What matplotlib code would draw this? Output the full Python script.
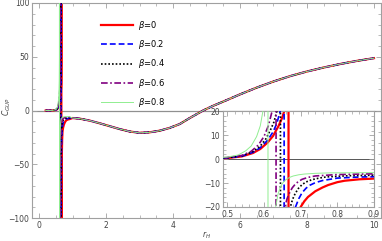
import matplotlib.pyplot as plt
from matplotlib.ticker import MultipleLocator

betas = [0, 0.2, 0.4, 0.6, 0.8]
colors = ['#ff0000', '#0000ff', '#000000', '#800080', '#90ee90']
styles = ['-', (0, (3.5, 1.8)), (0, (1.0, 1.2)), (0, (4, 1.5, 1, 1.5)), '-']
widths = [1.6, 1.2, 1.2, 1.2, 0.7]

# branch left of the pole (C -> +inf)
r_left_0 = [0.2, 0.3, 0.4, 0.45, 0.5, 0.54, 0.57, 0.59, 0.61, 0.625, 0.64, 0.65, 0.655, 0.66, 0.664, 0.6668]
c_left_0 = [0.0, 0.0, 0.1, 0.2, 0.5, 1.2, 2.6, 4.3, 7.0, 9.8, 14.0, 17.5, 20.0, 26.0, 45.0, 600.0]
r_left_2 = [0.2, 0.3, 0.4, 0.45, 0.5, 0.54, 0.57, 0.59, 0.61, 0.625, 0.635, 0.644, 0.649, 0.653, 0.6548]
c_left_2 = [0.0, 0.0, 0.1, 0.25, 0.55, 1.3, 2.9, 4.8, 8.0, 11.5, 15.0, 20.0, 27.0, 45.0, 600.0]
r_left_4 = [0.2, 0.3, 0.4, 0.45, 0.5, 0.54, 0.57, 0.59, 0.605, 0.617, 0.627, 0.635, 0.64, 0.643, 0.6448]
c_left_4 = [0.0, 0.0, 0.1, 0.3, 0.6, 1.4, 3.2, 5.5, 8.5, 12.0, 15.5, 20.0, 28.0, 45.0, 600.0]
r_left_6 = [0.2, 0.3, 0.4, 0.45, 0.5, 0.54, 0.565, 0.585, 0.6, 0.612, 0.622, 0.627, 0.631, 0.6328]
c_left_6 = [0.0, 0.0, 0.1, 0.3, 0.7, 1.6, 3.3, 6.0, 9.5, 14.0, 20.0, 27.0, 45.0, 600.0]
r_left_8 = [0.2, 0.3, 0.4, 0.45, 0.5, 0.53, 0.55, 0.565, 0.58, 0.59, 0.597, 0.603, 0.608, 0.6108]
c_left_8 = [0.0, 0.0, 0.15, 0.4, 0.9, 1.8, 3.5, 5.5, 9.5, 14.0, 20.0, 28.0, 50.0, 600.0]

# branch right of the pole (C -> -inf)
r_right_0 = [0.6672, 0.672, 0.68, 0.69, 0.70, 0.71, 0.72, 0.74, 0.76, 0.775, 0.80, 0.82, 0.86, 0.9]
c_right_0 = [-600.0, -100.0, -42.0, -27.0, -20.0, -17.6, -15.8, -13.4, -11.8, -10.8, -9.6, -9.0, -8.4, -8.1]
r_right_2 = [0.6552, 0.66, 0.668, 0.676, 0.686, 0.695, 0.704, 0.715, 0.725, 0.74, 0.76, 0.80, 0.85, 0.9]
c_right_2 = [-600.0, -100.0, -40.0, -27.0, -20.0, -16.5, -14.0, -12.1, -10.9, -9.8, -8.9, -7.9, -7.5, -7.3]
r_right_4 = [0.6452, 0.65, 0.657, 0.664, 0.672, 0.678, 0.685, 0.694, 0.704, 0.715, 0.73, 0.75, 0.77, 0.83, 0.9]
c_right_4 = [-600.0, -100.0, -40.0, -27.0, -20.0, -16.8, -14.4, -12.2, -10.6, -9.5, -8.6, -7.9, -7.4, -6.9, -6.7]
r_right_6 = [0.6332, 0.638, 0.645, 0.65, 0.657, 0.663, 0.67, 0.677, 0.685, 0.694, 0.704, 0.72, 0.74, 0.80, 0.9]
c_right_6 = [-600.0, -100.0, -40.0, -28.0, -20.0, -16.5, -14.0, -12.0, -10.5, -9.3, -8.4, -7.6, -7.0, -6.4, -6.1]
r_right_8 = [0.6112, 0.616, 0.622, 0.627, 0.632, 0.638, 0.645, 0.652, 0.66, 0.67, 0.68, 0.695, 0.71, 0.74, 0.78, 0.9]
c_right_8 = [-600.0, -100.0, -40.0, -27.0, -20.0, -14.8, -11.5, -9.8, -8.5, -7.6, -7.0, -6.5, -6.2, -5.9, -5.7, -5.6]

# large r_H part, the five curves coincide there
r_far = [1.0, 1.2, 1.5, 1.8, 2.1, 2.4, 2.7, 3.0, 3.3, 3.6, 3.9, 4.2, 4.5, 4.9,
         5.2, 5.5, 6.0, 6.5, 7.0, 7.5, 8.0, 8.5, 9.0, 9.5, 10.0]
c_far = [-7.0, -7.5, -9.3, -11.8, -14.5, -17.2, -19.5, -20.8, -20.3, -18.8, -16.2, -12.6, -7.0, 0.0,
         4.4, 8.3, 15.0, 21.3, 27.0, 32.0, 36.3, 40.0, 43.3, 46.2, 48.7]

r_left = [r_left_0, r_left_2, r_left_4, r_left_6, r_left_8]
c_left = [c_left_0, c_left_2, c_left_4, c_left_6, c_left_8]
r_right = [r_right_0, r_right_2, r_right_4, r_right_6, r_right_8]
c_right = [c_right_0, c_right_2, c_right_4, c_right_6, c_right_8]

frame = '#a0a0a0'
tick_col = '#444444'


def style_axes(ax, fs):
    for s in ax.spines.values():
        s.set_color(frame)
        s.set_linewidth(0.8)
    ax.tick_params(which='both', direction='in', top=True, right=True,
                   color=frame, labelcolor=tick_col, labelsize=fs, pad=2)
    ax.tick_params(which='major', length=3.5, width=0.6)
    ax.tick_params(which='minor', length=2, width=0.5)


fig = plt.figure(figsize=(3.82, 2.41), dpi=100)
ax = fig.add_axes([32 / 382, 1 - 218 / 241, 349 / 382, 215 / 241])

ax.axhline(0, color='#909090', lw=0.9, zorder=1)
lines = []
for i, b in enumerate(betas):
    r = r_left[i] + r_right[i] + r_far
    c = c_left[i] + c_right[i] + c_far
    ln, = ax.plot(r, c, color=colors[i], ls=styles[i], lw=widths[i], zorder=2 + i,
                  label=r'$\beta$=' + str(b))
    lines.append(ln)

ax.set_xlim(-0.21, 10.21)
ax.set_ylim(-100, 100)
ax.xaxis.set_major_locator(MultipleLocator(2))
ax.xaxis.set_minor_locator(MultipleLocator(0.5))
ax.yaxis.set_major_locator(MultipleLocator(50))
ax.yaxis.set_minor_locator(MultipleLocator(10))
style_axes(ax, 5.5)
ax.set_xlabel(r'$r_H$', fontsize=5.5, color=tick_col, va='center')
ax.set_ylabel(r'$C_{GUP}$', fontsize=5.5, color=tick_col, va='center')
ax.xaxis.set_label_coords(0.5, -0.078)
ax.yaxis.set_label_coords(-0.072, 0.52)

ax.legend(handles=lines, loc='upper left', bbox_to_anchor=(101 / 382, 1 - 19 / 241),
          bbox_transform=fig.transFigure, frameon=False, fontsize=6,
          handlelength=3.8, handletextpad=0.6, labelspacing=0.75,
          borderpad=0, borderaxespad=0)

# inset zoom on the pole region
axi = fig.add_axes([222.5 / 382, 1 - 207 / 241, 151.5 / 382, 95.5 / 241])
axi.axhline(0, color='#555555', lw=0.7, zorder=1)
for i, b in enumerate(betas):
    r = r_left[i] + r_right[i] + r_far
    c = c_left[i] + c_right[i] + c_far
    axi.plot(r, c, color=colors[i], ls=styles[i], lw=widths[i], zorder=2 + i)
axi.set_xlim(0.487, 0.9)
axi.set_ylim(-20, 20)
axi.xaxis.set_major_locator(MultipleLocator(0.1))
axi.xaxis.set_minor_locator(MultipleLocator(0.02))
axi.yaxis.set_major_locator(MultipleLocator(10))
axi.yaxis.set_minor_locator(MultipleLocator(2))
style_axes(axi, 5.5)

plt.savefig('out.png', dpi=100)
